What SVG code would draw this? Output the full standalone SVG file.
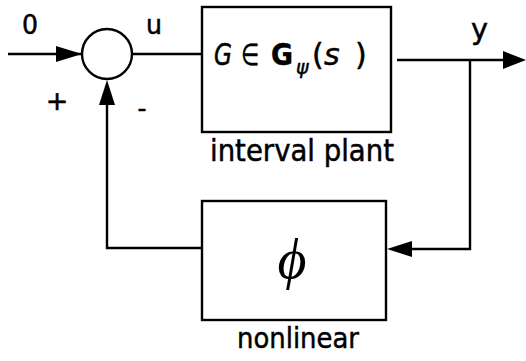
<svg xmlns="http://www.w3.org/2000/svg" width="526" height="361" viewBox="0 0 526 361">
<defs>
<style>
.ln{fill:none;stroke:#000;stroke-width:2.4}
.bx{fill:#fff;stroke:#000;stroke-width:2.4}
.t{font-family:"DejaVu Sans",Verdana,sans-serif;fill:#000;stroke:#000;stroke-width:0.5}
.ah{fill:#000;stroke:none}
</style>
</defs>
<rect width="526" height="361" fill="#fff"/>
<g id="connectors">
<line class="ln" x1="8" y1="54" x2="82" y2="54"/>
<polygon class="ah" points="82,54 56,46 56,62"/>
<line class="ln" x1="132" y1="54" x2="202" y2="54"/>
<line class="ln" x1="397" y1="60" x2="506" y2="60"/>
<polygon class="ah" points="526,60 503,51 503,69"/>
<polyline class="ln" points="470,60 470,249 410,249"/>
<polygon class="ah" points="387,249 412,241 412,257"/>
<polyline class="ln" points="202,248 107,248 107,104"/>
<polygon class="ah" points="107,80 99,105 115,105"/>
</g>
<g id="sum">
<circle class="ln" cx="107" cy="54" r="25"/>
<text class="t" x="57" y="110" font-size="27" text-anchor="middle">+</text>
<text class="t" x="142" y="117" font-size="25" text-anchor="middle">-</text>
</g>
<g id="labels">
<text class="t" x="22" y="34" font-size="26" textLength="16" lengthAdjust="spacingAndGlyphs">0</text>
<text class="t" x="146" y="34" font-size="26" textLength="16" lengthAdjust="spacingAndGlyphs">u</text>
<text class="t" x="471" y="39" font-size="29" textLength="17" lengthAdjust="spacingAndGlyphs">y</text>
</g>
<g id="plant">
<rect class="bx" x="202" y="7" width="189" height="125"/>
<text class="t" font-size="30" y="65"><tspan x="214" font-style="italic" textLength="18" lengthAdjust="spacingAndGlyphs">G</tspan><tspan x="241" textLength="18" lengthAdjust="spacingAndGlyphs">∈</tspan><tspan x="271" font-weight="bold" textLength="22" lengthAdjust="spacingAndGlyphs">G</tspan><tspan x="296" y="74" font-size="19" font-style="italic">ψ</tspan><tspan x="312" y="65">(</tspan><tspan x="324" font-style="italic">s</tspan><tspan x="355">)</tspan></text>
<text class="t" x="210" y="161" font-size="30" textLength="184" lengthAdjust="spacingAndGlyphs">interval plant</text>
</g>
<g id="nonlinear">
<rect class="bx" x="202" y="201" width="184" height="119"/>
<text x="292" y="278" font-family="'Liberation Serif','Times New Roman',serif" font-style="italic" font-size="56" text-anchor="middle">ϕ</text>
<text class="t" x="237" y="348" font-size="29" textLength="122" lengthAdjust="spacingAndGlyphs">nonlinear</text>
</g>
</svg>
